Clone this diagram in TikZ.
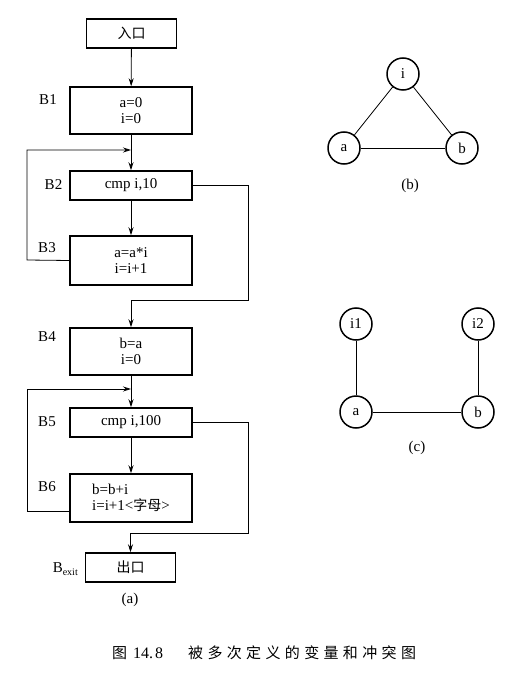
\documentclass[tikz,border=0pt]{standalone}
\usepackage{fontspec}
\setmainfont{Liberation Serif}
\newfontfamily\cjk{Noto Sans CJK SC}
\newfontfamily\cjkcap[LetterSpace=29]{Noto Sans CJK SC}
\usetikzlibrary{arrows.meta}
\begin{document}
\begin{tikzpicture}[x=1pt,y=-1pt,
  every node/.style={font=\fontsize{15}{16.5}\selectfont, inner sep=0pt},
  blk/.style={draw, line width=1.5pt, minimum width=122pt},
  tiny/.style={blk, minimum width=90pt, minimum height=29pt},
  vtx/.style={draw, circle, line width=1.5pt, minimum size=32pt},
  conn/.style={line width=0.8pt, -{Stealth[length=8pt,width=5pt]}},
  edge/.style={line width=0.8pt},
]
\useasboundingbox (0,0) rectangle (519,676);
% flow graph (a)
\node[tiny] (en) at (131.5,33.5) {{\cjk\fontsize{14}{14}\selectfont 入口}};
\node[blk, minimum height=47pt, align=center] (B1) at (131,110.5) {a=0\\i=0};
\node[blk, minimum height=29pt] (B2) at (131,185.5) {cmp i,10};
\node[blk, minimum height=49pt, align=center] (B3) at (131,260.5) {a=a*i\\i=i+1};
\node[blk, minimum height=47pt, align=center] (B4) at (131,351.5) {b=a\\i=0};
\node[blk, minimum height=29pt] (B5) at (131,422.5) {cmp i,100};
\node[blk, minimum height=48pt, align=left] (B6) at (131,498) {b=b+i\\ i=i+1<{\cjk\fontsize{14}{14}\selectfont 字母}>};
\node[tiny] (Bx) at (130.5,567.5) {{\cjk\fontsize{14}{14}\selectfont 出口}};

\node (l1) at (48,100) {B1};
\node (l2) at (53.5,185) {B2};
\node (l3) at (47,248) {B3};
\node (l4) at (47,337) {B4};
\node (l5) at (47,422) {B5};
\node (l6) at (47,487) {B6};
\node[anchor=east] (lx) at (78,569) {B\raisebox{-0.35ex}{\fontsize{10}{10}\selectfont exit}};
\node (capa) at (130,600) {(a)};

\coordinate (j1) at (131,150);
\coordinate (j2) at (131,389);
\coordinate (c1) at (248,300);
\coordinate (c2) at (248,533);
\coordinate (w3) at (27,260);
\coordinate (w6) at (27,511);

\draw[conn] (en) -- (B1);
\draw[conn] (B1) -- (B2);
\draw[conn] (B2) -- (B3);
\draw[conn] (B3.west) -- (w3) |- (j1);
\draw[conn] (B2.east) -| (c1) -| (B4.north);
\draw[conn] (B4) -- (B5);
\draw[conn] (B5) -- (B6);
\draw[conn] ([yshift=-13pt]B6.west) -- (w6) |- (j2);
\draw[conn] (B5.east) -| (c2) -| (Bx.north);

% graph (b)
\node[vtx] (bi) at (403,74) {i};
\node[vtx] (ba) at (344,148) {a};
\node[vtx] (bb) at (462,148) {b};
\draw[edge] (bi) -- (ba);
\draw[edge] (bi) -- (bb);
\draw[edge] (ba) -- (bb);
\node (capb) at (410,186) {(b)};

% graph (c)
\node[vtx] (ci1) at (356,324) {i1};
\node[vtx] (ci2) at (478,324) {i2};
\node[vtx] (ca) at (356,412) {a};
\node[vtx] (cb) at (478,412) {b};
\draw[edge] (ci1) -- (ca);
\draw[edge] (ci2) -- (cb);
\draw[edge] (ca) -- (cb);
\node (capc) at (417,448) {(c)};

% caption
\node[anchor=west] (fig) at (112,653) {{\cjk 图}\hspace{6pt}\fontsize{16}{16}\selectfont 14.\hspace{2pt}8};
\node[anchor=west] (cap) at (188,653) {{\cjkcap\fontsize{15}{15}\selectfont 被多次定义的变量和冲突图}};
\end{tikzpicture}
\end{document}
